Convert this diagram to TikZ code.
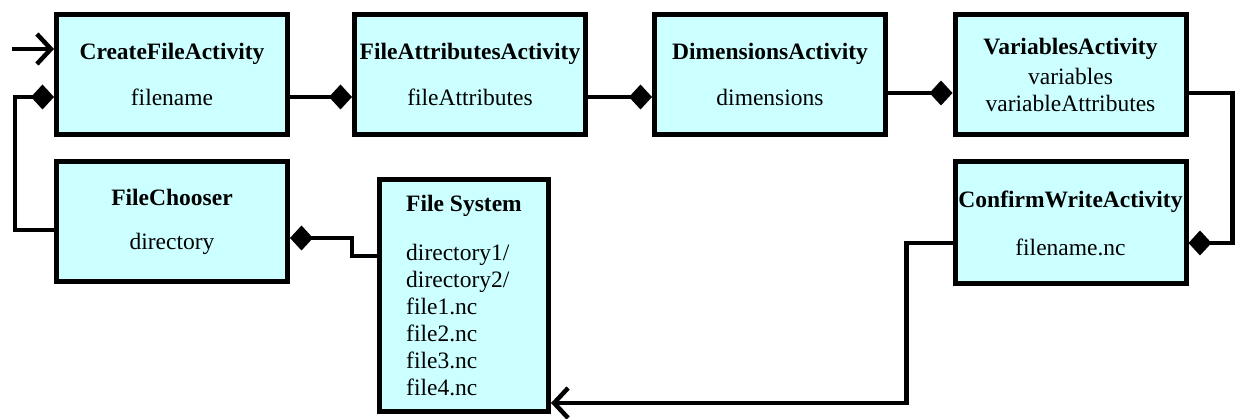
\documentclass[tikz,border=0pt]{standalone}
\usepackage{fontspec}
\setmainfont{Liberation Serif}
\usetikzlibrary{arrows.meta}
\definecolor{boxcyan}{HTML}{CCFFFF}
\tikzset{
  >={Straight Barb[length=14pt,width=30pt,line width=4.5pt]},
  diam/.tip={Diamond[length=23pt,width=25pt]},
  actbox/.style={draw, line width=5pt, fill=boxcyan, inner sep=0pt,
    minimum width=231pt, minimum height=120pt, align=center,
    font=\fontsize{23.5}{27}\selectfont},
  conn/.style={line width=4.5pt},
}
\begin{document}
\begin{tikzpicture}[x=1pt,y=-1pt]
      \useasboundingbox (0,0) rectangle (1235,419);

      \node[actbox] (cfa) at (172,74.5) {\textbf{CreateFileActivity}\\[19pt]filename};
      \node[actbox] (faa) at (470,74.5) {\textbf{FileAttributesActivity}\\[19pt]fileAttributes};
      \node[actbox] (dim) at (770,74.5) {\textbf{DimensionsActivity}\\[19pt]dimensions};
      \node[actbox] (var) at (1070.5,74.5) {\textbf{VariablesActivity}\\[3pt]variables\\variableAttributes};
      \node[actbox] (chooser) at (172,222) {\textbf{FileChooser}\\[17pt]directory};
      \node[actbox,minimum height=122pt] (confirm) at (1070.5,223) {\textbf{ConfirmWriteActivity}\\[21pt]filename.nc};
      \node[actbox,align=left,minimum width=169pt,minimum height=232pt] (fs) at (464,295.5)
            {\textbf{File System}\\[22pt]directory1/\\directory2/\\file1.nc\\file2.nc\\file3.nc\\file4.nc};

      \coordinate (start) at (12,49);

      \draw[conn,->] (start) -- (start -| cfa.west);
      \draw[conn,-diam] ([yshift=-22.5pt]cfa.east) -- ([yshift=-22.5pt]faa.west);
      \draw[conn,-diam] ([yshift=-22.5pt]faa.east) -- ([yshift=-22.5pt]dim.west);
      \draw[conn,-diam] ([yshift=-18.5pt]dim.east) -- ([yshift=-18.5pt]var.west);
      \draw[conn,-diam] ([yshift=-18.5pt]var.east) -- ++(44,0) |- ([yshift=-20pt]confirm.east);
      \draw[conn,->] ([yshift=-20pt]confirm.west) -- ++(-46,0) |- ([yshift=-107.5pt]fs.east);
      \draw[conn,diam-] ([yshift=-16pt]chooser.east) -- ++(62,0) |- ([yshift=39.5pt]fs.west);
      \draw[conn,-diam] ([yshift=-8pt]chooser.west) -- ++(-39,0) |- ([yshift=-22.5pt]cfa.west);
    \end{tikzpicture}
\end{document}
